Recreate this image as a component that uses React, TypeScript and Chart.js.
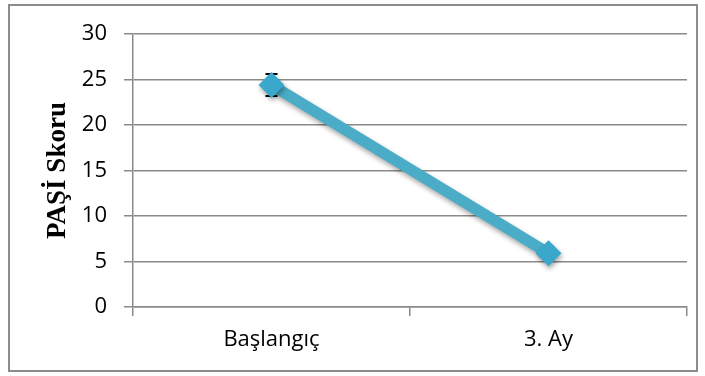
import React, { useEffect, useRef } from "react";
import { Chart, registerables } from "chart.js";

Chart.register(...registerables);

// Mean PAŞİ score at each visit, with its spread
const categories = ["Başlangıç", "3. Ay"];
const scores = [24.4, 5.9];
const scoreErrors = [1.2, 0.6];
const yTicks = [0, 5, 10, 15, 20, 25, 30];

const LINE_COLOR = "#4aacc6";
const MARKER_COLOR = "#3aa8cb";
const GRID_COLOR = "#8a8a8a";

// Thin frame around the whole chart
const framePlugin = {
  id: "frame",
  beforeDraw(chart: any) {
    const ctx = chart.ctx;
    ctx.save();
    ctx.fillStyle = "#ffffff";
    ctx.fillRect(0, 0, chart.width, chart.height);
    ctx.strokeStyle = "#8c8c8c";
    ctx.lineWidth = 2;
    ctx.strokeRect(9, 5, 688, 366);
    ctx.restore();
  },
};

// Black error bars with caps, drawn underneath the markers
const errorBarPlugin = {
  id: "errorBars",
  beforeDatasetsDraw(chart: any) {
    const ctx = chart.ctx;
    const meta = chart.getDatasetMeta(0);
    const yScale = chart.scales.y;
    ctx.save();
    ctx.strokeStyle = "#000000";
    ctx.lineWidth = 2;
    meta.data.forEach((pt: any, i: number) => {
      const v = scores[i];
      const e = scoreErrors[i];
      const top = yScale.getPixelForValue(v + e);
      const bottom = yScale.getPixelForValue(v - e);
      const x = pt.x;
      ctx.beginPath();
      ctx.moveTo(x, top);
      ctx.lineTo(x, bottom);
      ctx.moveTo(x - 6, top);
      ctx.lineTo(x + 6, top);
      ctx.moveTo(x - 6, bottom);
      ctx.lineTo(x + 6, bottom);
      ctx.stroke();
    });
    ctx.restore();
  },
};

// Soft drop shadow under the series line
const shadowPlugin = {
  id: "lineShadow",
  beforeDatasetDraw(chart: any) {
    const ctx = chart.ctx;
    ctx.save();
    ctx.shadowColor = "rgba(0,0,0,0.35)";
    ctx.shadowBlur = 5;
    ctx.shadowOffsetX = 1;
    ctx.shadowOffsetY = 3;
  },
  afterDatasetDraw(chart: any) {
    chart.ctx.restore();
  },
};

export default function App() {
  const canvasRef = useRef<HTMLCanvasElement | null>(null);

  useEffect(() => {
    if (!canvasRef.current) return;
    const chart = new Chart(canvasRef.current, {
      type: "line",
      data: {
        labels: categories,
        datasets: [
          {
            data: scores,
            borderColor: LINE_COLOR,
            borderWidth: 11,
            backgroundColor: MARKER_COLOR,
            pointStyle: "rectRot",
            pointRadius: 13,
            pointBorderWidth: 0,
            pointBackgroundColor: MARKER_COLOR,
            tension: 0,
          },
        ],
      },
      options: {
        animation: false,
        responsive: true,
        maintainAspectRatio: false,
        layout: { padding: { top: 34, right: 18, left: 0, bottom: 0 } },
        plugins: {
          legend: { display: false },
          tooltip: { enabled: false },
        },
        scales: {
          x: {
            type: "category",
            offset: true,
            grid: {
              offset: true,
              drawOnChartArea: false,
              drawTicks: true,
              tickLength: 9,
              color: GRID_COLOR,
              lineWidth: 1.5,
            },
            border: { display: true, color: GRID_COLOR, width: 1.5 },
            ticks: {
              color: "#000000",
              padding: 11,
              font: { family: "'Open Sans'", size: 22 },
            },
            afterFit(scale: any) {
              scale.height = 69;
            },
          },
          y: {
            min: 0,
            max: 30,
            afterBuildTicks(scale: any) {
              scale.ticks = yTicks.map((v) => ({ value: v }));
            },
            grid: {
              color: GRID_COLOR,
              lineWidth: 1.5,
              drawTicks: true,
              tickLength: 9,
            },
            border: { display: true, color: GRID_COLOR, width: 1.5 },
            ticks: {
              color: "#000000",
              padding: 17,
              font: { family: "'Open Sans'", size: 22 },
            },
            title: {
              display: true,
              text: "PAŞİ Skoru",
              color: "#000000",
              font: { family: "'Liberation Serif'", size: 27, weight: "bold" },
              padding: { top: 42, bottom: 0 },
            },
            afterFit(scale: any) {
              scale.width = 133;
            },
          },
        },
      },
      plugins: [framePlugin, errorBarPlugin, shadowPlugin],
    });
    return () => chart.destroy();
  }, []);

  return (
    <div style={{ position: "fixed", left: 0, top: 0, width: 705, height: 376 }}>
      <canvas ref={canvasRef} />
    </div>
  );
}
